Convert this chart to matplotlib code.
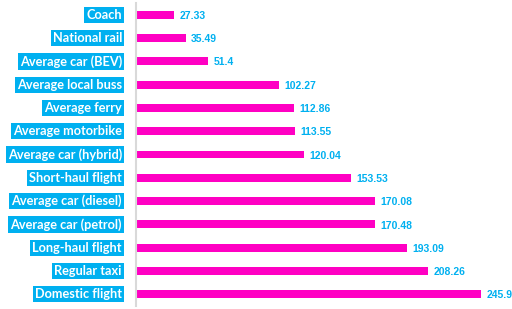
import matplotlib.pyplot as plt

modes = ['Coach', 'National rail', 'Average car (BEV)', 'Average local buss',
         'Average ferry', 'Average motorbike', 'Average car (hybrid)',
         'Short-haul flight', 'Average car (diesel)', 'Average car (petrol)',
         'Long-haul flight', 'Regular taxi', 'Domestic flight']
values = [27.33, 35.49, 51.4, 102.27, 112.86, 113.55, 120.04,
          153.53, 170.08, 170.48, 193.09, 208.26, 245.9]
value_labels = ['27.33', '35.49', '51.4', '102.27', '112.86', '113.55', '120.04',
                '153.53', '170.08', '170.48', '193.09', '208.26', '245.9']

bar_color = '#ff00c3'
label_bg = '#00b0f0'

fig = plt.figure(figsize=(5.12, 3.09), dpi=100)
ax = fig.add_axes([136 / 512, 0.01, 1 - 136 / 512, 0.98])

y = list(range(len(modes)))
ax.barh(y, values, height=0.34, color=bar_color)
ax.set_ylim(len(modes) - 0.5, -0.5)
ax.set_xlim(0, 268)

# value labels right of the bars
for yi, v, lab in zip(y, values, value_labels):
    ax.text(v + 3.8, yi + 0.05, lab, color=label_bg, fontsize=7.5, fontweight='bold',
            va='center', ha='left', family='Liberation Sans')

# category labels on blue boxes
ax.set_yticks([])
ax.set_xticks([])
for yi, name in zip(y, modes):
    ax.text(-10, yi, name, ha='right', va='center', color='white',
            fontsize=9.2, fontweight='bold', family='Lato', clip_on=False,
            bbox=dict(boxstyle='square,pad=0.16', fc=label_bg, ec='none'))

for s in ['top', 'right', 'bottom']:
    ax.spines[s].set_visible(False)
ax.spines['left'].set_color('#d9d9d9')
ax.spines['left'].set_linewidth(1.5)

fig.savefig('out.png', dpi=100)
